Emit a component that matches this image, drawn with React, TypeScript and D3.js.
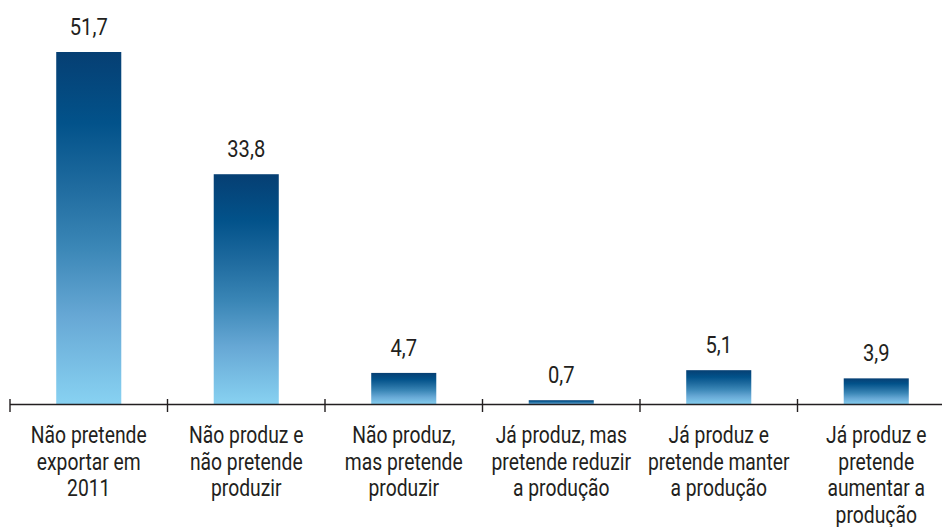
import { useEffect, useRef } from 'react'
import * as d3 from 'd3'

const categories = [
  ['Não pretende', 'exportar em', '2011'],
  ['Não produz e', 'não pretende', 'produzir'],
  ['Não produz,', 'mas pretende', 'produzir'],
  ['Já produz, mas', 'pretende reduzir', 'a produção'],
  ['Já produz e', 'pretende manter', 'a produção'],
  ['Já produz e', 'pretende', 'aumentar a', 'produção'],
]
const values = [51.7, 33.8, 4.7, 0.7, 5.1, 3.9]
const valueLabels = ['51,7', '33,8', '4,7', '0,7', '5,1', '3,9']

const gradientStops = [
  { offset: '0%', color: '#063f73' },
  { offset: '20%', color: '#02528a' },
  { offset: '38%', color: '#1f6b9f' },
  { offset: '55%', color: '#3a86b6' },
  { offset: '75%', color: '#67a8d5' },
  { offset: '100%', color: '#88d2f2' },
]

const FONT = 'Roboto, "DejaVu Sans Condensed", sans-serif'
const SQUEEZE = 0.84

export default function App() {
  const svgRef = useRef<SVGSVGElement>(null)

  useEffect(() => {
    if (!svgRef.current) return
    const width = 942
    const height = 527
    const baseY = 405

    const svg = d3.select(svgRef.current)
    svg.selectAll('*').remove()
    svg.attr('width', width).attr('height', height)

    // Gradiente por barra
    const grad = svg.append('defs').append('linearGradient')
      .attr('id', 'barGrad')
      .attr('x1', 0).attr('y1', 0).attr('x2', 0).attr('y2', 1)
    grad.selectAll('stop')
      .data(gradientStops)
      .enter()
      .append('stop')
      .attr('offset', d => d.offset)
      .attr('stop-color', d => d.color)

    const idx = values.map((_, i) => String(i))
    const x = d3.scaleBand<string>()
      .domain(idx)
      .range([10, 955])
      .padding(0)

    const y = d3.scaleLinear()
      .domain([0, 51.7])
      .range([baseY, 52])

    const barW = x.bandwidth() * 0.413
    const cx = (i: number) => x(String(i))! + x.bandwidth() / 2

    // Barras
    svg.selectAll('.bar')
      .data(values)
      .enter()
      .append('rect')
      .attr('class', 'bar')
      .attr('x', (_, i) => cx(i) - barW / 2)
      .attr('y', d => y(d))
      .attr('width', barW)
      .attr('height', d => baseY - y(d))
      .attr('fill', 'url(#barGrad)')

    // Rótulos de valor
    svg.selectAll('.val')
      .data(values)
      .enter()
      .append('text')
      .attr('class', 'val')
      .attr('transform', (d, i) => `translate(${cx(i)},${y(d) - 17}) scale(${SQUEEZE},1)`)
      .attr('text-anchor', 'middle')
      .attr('font-family', FONT)
      .attr('font-size', 24)
      .attr('fill', '#231f20')
      .text((_, i) => valueLabels[i])

    // Eixo
    svg.append('line')
      .attr('x1', 10).attr('x2', width)
      .attr('y1', baseY - 0.5).attr('y2', baseY - 0.5)
      .attr('stroke', '#231f20')
      .attr('stroke-width', 1.6)

    const tickXs = idx.map(i => x(i)!)
    svg.selectAll('.tick')
      .data(tickXs)
      .enter()
      .append('line')
      .attr('class', 'tick')
      .attr('x1', d => d).attr('x2', d => d)
      .attr('y1', baseY - 6).attr('y2', baseY + 7)
      .attr('stroke', '#231f20')
      .attr('stroke-width', 1.4)

    // Categorias
    const cat = svg.selectAll('.cat')
      .data(categories)
      .enter()
      .append('text')
      .attr('class', 'cat')
      .attr('transform', (_, i) => `translate(${cx(i)},0) scale(${SQUEEZE},1)`)
      .attr('text-anchor', 'middle')
      .attr('font-family', FONT)
      .attr('font-size', 23)
      .attr('fill', '#231f20')

    cat.selectAll('tspan')
      .data(d => d)
      .enter()
      .append('tspan')
      .attr('x', 0)
      .attr('y', (_, j) => 443.5 + j * 26.5)
      .text(d => d)
  }, [])

  return (
    <svg ref={svgRef} style={{ position: 'fixed', left: 0, top: 0, display: 'block', background: '#fff' }} />
  )
}
